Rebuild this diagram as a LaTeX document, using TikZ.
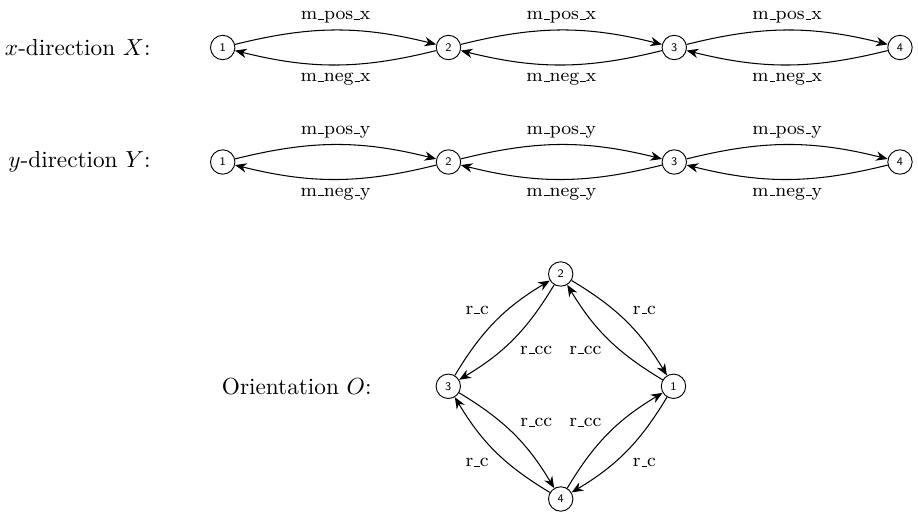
\documentclass[tikz,border=0pt]{standalone}
\usetikzlibrary{arrows.meta}
\newcommand{\us}{\leavevmode\kern.06em\vbox{\hrule width.3em}}
\begin{document}
\begin{tikzpicture}[x=0.43pt,y=-0.43pt,
  st/.style={circle,draw,minimum size=10.5pt,inner sep=0pt,font=\tiny\sffamily},
  labu/.style={font=\footnotesize,above,inner sep=2.7pt},
  labd/.style={font=\footnotesize,below,inner sep=3.4pt},
  lab/.style={font=\footnotesize,auto,inner sep=2.7pt},
  ed/.style={-{Stealth[length=5pt,width=4pt,inset=1.6pt]},line width=0.45pt},
  ttl/.style={font=\normalsize,anchor=east,inner sep=0pt}]
\useasboundingbox (0,0) rectangle (918,513);
% row X
\node[ttl] (tx) at (151,47.5) {$x$-direction $X$:};
\node[st] (x1) at (222.7,47.5) {1};
\node[st] (x2) at (448.5,47.5) {2};
\node[st] (x3) at (674.3,47.5) {3};
\node[st] (x4) at (900,47.5) {4};
\foreach \a/\b in {x1/x2,x2/x3,x3/x4}{
  \draw[ed] (\a) to[bend left=14] node[labu]{m\us pos\us x} (\b);
  \draw[ed] (\b) to[bend left=14] node[labd]{m\us neg\us x} (\a);
}
% row Y
\node[ttl] (ty) at (151,162) {$y$-direction $Y$:};
\node[st] (y1) at (222.7,162) {1};
\node[st] (y2) at (448.5,162) {2};
\node[st] (y3) at (674.3,162) {3};
\node[st] (y4) at (900,162) {4};
\foreach \a/\b in {y1/y2,y2/y3,y3/y4}{
  \draw[ed] (\a) to[bend left=14] node[labu]{m\us pos\us y} (\b);
  \draw[ed] (\b) to[bend left=14] node[labd]{m\us neg\us y} (\a);
}
% orientation
\node[ttl] (to) at (372,386.3) {Orientation $O$:};
\node[st] (o2) at (560.7,274) {2};
\node[st] (o3) at (448.3,386.3) {3};
\node[st] (o1) at (673.5,386.3) {1};
\node[st] (o4) at (560.7,499) {4};
\foreach \a/\b in {o2/o1,o1/o4,o4/o3,o3/o2}{
  \draw[ed] (\a) to[bend left=14] node[lab]{r\us c} (\b);
  \draw[ed] (\b) to[bend left=14] node[lab]{r\us cc} (\a);
}
\end{tikzpicture}
\end{document}
